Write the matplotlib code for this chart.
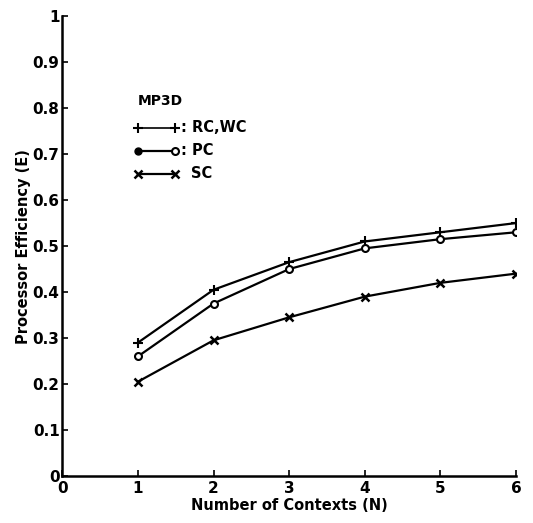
import numpy as np
import matplotlib.pyplot as plt

# values (MP3D)
contexts = [1, 2, 3, 4, 5, 6]
rc_wc = [0.29, 0.405, 0.465, 0.51, 0.53, 0.55]
pc = [0.26, 0.375, 0.45, 0.495, 0.515, 0.53]
sc = [0.205, 0.295, 0.345, 0.39, 0.42, 0.44]

xticks = [0, 1, 2, 3, 4, 5, 6]
yticks = [0, 0.1, 0.2, 0.3, 0.4, 0.5, 0.6, 0.7, 0.8, 0.9, 1]
ylabels = ['0', '0.1', '0.2', '0.3', '0.4', '0.5', '0.6', '0.7', '0.8', '0.9', '1']

plt.rcParams['font.family'] = ['DejaVu Sans']
plt.rcParams['font.weight'] = 'bold'

fig = plt.figure(figsize=(5.33, 5.23), dpi=100)
ax = fig.add_axes([0.117, 0.09, 0.851, 0.879])

ax.plot(contexts, rc_wc, 'k-', marker='+', ms=7, mew=1.5, lw=1.6)
ax.plot(contexts, pc, 'k-', marker='o', ms=5, mfc='white', mew=1.5, lw=1.6)
ax.plot(contexts, sc, 'k-', marker='x', ms=6, mew=1.8, lw=1.6)

ax.set_xlim(0, 6)
ax.set_ylim(0, 1)
ax.set_xticks(xticks)
ax.set_yticks(yticks)
ax.set_yticklabels(ylabels)
ax.tick_params(direction='in', length=4, width=1.2, labelsize=11, pad=2)
ax.tick_params(axis='x', pad=4)
for s in ['top', 'right']:
    ax.spines[s].set_visible(False)
for s in ['left', 'bottom']:
    ax.spines[s].set_linewidth(1.8)

ax.set_xlabel('Number of Contexts (N)', fontsize=10.5, fontweight='bold', labelpad=1)
ax.set_ylabel('Processor Efficiency (E)', fontsize=10.5, fontweight='bold', labelpad=1)

# hand-drawn style legend like the original
tr = ax.transAxes
ax.text(0.166, 0.816, 'MP3D', transform=tr, fontsize=10, fontweight='bold', va='center')
rows = [0.757, 0.707, 0.657]
ax.plot([0.166, 0.248], [rows[0], rows[0]], 'k-', lw=1.2, marker='+', ms=7, mew=1.5, transform=tr)
ax.text(0.262, rows[0], ': RC,WC', transform=tr, fontsize=10.5, fontweight='bold', va='center')
ax.plot([0.166, 0.248], [rows[1], rows[1]], 'k-', lw=1.6, transform=tr)
ax.plot([0.166], [rows[1]], 'ko', ms=5, transform=tr)
ax.plot([0.248], [rows[1]], 'ko', ms=5, mfc='white', mew=1.5, transform=tr)
ax.text(0.262, rows[1], ': PC', transform=tr, fontsize=10.5, fontweight='bold', va='center')
ax.plot([0.166, 0.248], [rows[2], rows[2]], 'k-', lw=1.6, marker='x', ms=6, mew=1.8, transform=tr)
ax.text(0.284, rows[2], 'SC', transform=tr, fontsize=10.5, fontweight='bold', va='center')

fig.savefig('out.png', dpi=100)
